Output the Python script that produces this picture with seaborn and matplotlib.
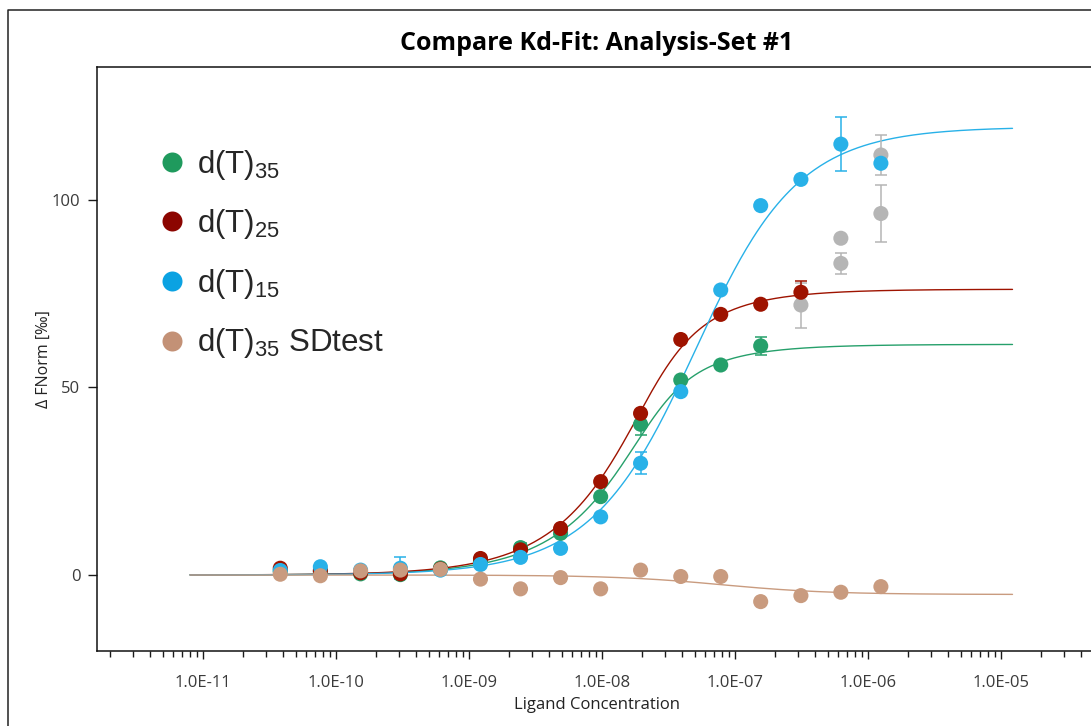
import numpy as np
import pandas as pd
import seaborn as sns
import matplotlib.pyplot as plt
from matplotlib.lines import Line2D
from matplotlib.ticker import LogLocator, FuncFormatter, NullFormatter, FixedLocator

# ligand concentrations [M], 2-fold serial dilution
conc = [3.81e-11, 7.63e-11, 1.53e-10, 3.05e-10, 6.10e-10, 1.22e-09,
        2.44e-09, 4.88e-09, 9.77e-09, 1.95e-08, 3.91e-08, 7.81e-08,
        1.56e-07, 3.13e-07, 6.25e-07, 1.25e-06]

# delta FNorm [permille] per sample (points used for the fit)
dt35 = [1.0, 0.9, 0.3, 0.1, 1.9, 3.6, 7.3, 11.1, 20.9, 40.2, 52.0, 56.0,
        61.1]
dt35_err = [0, 0, 0, 0, 0, 0, 1.3, 0, 0, 3.0, 0, 0, 2.5]
dt25 = [1.8, 1.2, 0.6, 0.3, 1.6, 4.4, 6.7, 12.4, 24.9, 43.1, 62.8, 69.5,
        72.2, 75.4]
dt25_err = [0, 0, 0, 0, 0, 0, 0, 0, 0, 0, 0, 0, 0, 2.9]
dt15 = [1.2, 2.2, 1.3, 1.8, 1.3, 2.8, 4.7, 7.1, 15.5, 29.8, 48.9, 76.0,
        98.5, 105.5, 114.9, 109.8]
dt15_err = [0, 0, 0, 2.9, 0, 0, 0, 0, 0, 3.0, 0, 0, 0, 0, 7.2, 0]
sdtest = [0.2, -0.2, 1.1, 1.3, 1.5, -1.1, -3.7, -0.7, -3.7, 1.3, -0.4,
          -0.4, -7.1, -5.5, -4.6, -3.1]
sdtest_err = [0] * 16

# points excluded from the fits (grey)
excl_idx = [13, 14, 14, 15, 15]
excl_val = [72.0, 89.8, 83.1, 112.0, 96.4]
excl_err = [6.0, 1.0, 2.9, 5.3, 7.6]

# Kd fit results: Kd [M], bound level [permille], target conc 20 nM
fit_kd = [5e-9, 6e-9, 40e-9, 70e-9]
fit_bound = [61.5, 76.2, 119.5, -5.2]
target_conc = 20e-9
fit_range = (8e-12, 1.22e-5)

x_ticks = [1e-11, 1e-10, 1e-9, 1e-8, 1e-7, 1e-6, 1e-5]

names = ["d(T)35", "d(T)25", "d(T)15", "d(T)35 SDtest"]
labels = [r"d(T)$_\mathregular{35}$", r"d(T)$_\mathregular{25}$",
          r"d(T)$_\mathregular{15}$", r"d(T)$_\mathregular{35}$ SDtest"]
colors = ["#26A06B", "#9E1300", "#28B1E8", "#C99B7F"]
legend_colors = ["#1F9A5D", "#8C0500", "#0BA2E2", "#C39176"]
grey = "#B5B5B5"


def kd_model(c, kd, bound):
    s = c + target_conc + kd
    frac = (s - np.sqrt(s * s - 4 * c * target_conc)) / (2 * target_conc)
    return bound * frac


def fmt_sci(v, pos):
    return f"{v:.1E}"


def main():
    sns.set_theme(style="white")
    plt.rcParams["font.family"] = ["Open Sans", "DejaVu Sans"]
    plt.rcParams["mathtext.fontset"] = "custom"
    plt.rcParams["mathtext.rm"] = "Liberation Sans"

    fig = plt.figure(figsize=(10.91, 7.26), dpi=100)
    lo, hi = -11.797, -4.0
    width = (hi - lo) * 133 / 1091
    ax = fig.add_axes([97 / 1091, 75 / 726, width, 584 / 726])

    # points table, grey first so coloured points sit on top
    rows = []
    for i, v in zip(excl_idx, excl_val):
        rows.append(("excluded", conc[i], v))
    for name, vals in zip(names, [dt35, dt25, dt15, sdtest]):
        for c, v in zip(conc, vals):
            rows.append((name, c, v))
    pts = pd.DataFrame(rows, columns=["series", "conc", "value"])

    cgrid = np.logspace(np.log10(fit_range[0]), np.log10(fit_range[1]), 400)
    fits = pd.concat([
        pd.DataFrame({"series": name, "conc": cgrid,
                      "value": kd_model(cgrid, kd, b)})
        for name, kd, b in zip(names, fit_kd, fit_bound)])

    palette = dict(zip(names, colors))
    palette["excluded"] = grey

    sns.lineplot(data=fits, x="conc", y="value", hue="series",
                 palette=palette, linewidth=1.0, legend=False, ax=ax,
                 zorder=2)

    # error bars
    ex = [conc[i] for i in excl_idx]
    ax.errorbar(ex, excl_val, yerr=excl_err, fmt="none", ecolor=grey,
                elinewidth=1.1, capsize=4.3, capthick=1.1, zorder=2.5)
    for vals, err, col in zip([dt35, dt25, dt15, sdtest],
                              [dt35_err, dt25_err, dt15_err, sdtest_err],
                              colors):
        sel = [k for k, e in enumerate(err) if e > 0]
        if not sel:
            continue
        ax.errorbar([conc[k] for k in sel], [vals[k] for k in sel],
                    yerr=[err[k] for k in sel], fmt="none", ecolor=col,
                    elinewidth=1.1, capsize=4.3, capthick=1.1, zorder=2.5)

    sns.scatterplot(data=pts, x="conc", y="value", hue="series",
                    palette=palette, s=118, linewidth=0, legend=False,
                    ax=ax, zorder=3)

    ax.set_xscale("log")
    ax.set_xlim(10 ** lo, 10 ** hi)
    ax.set_ylim(-20.27, 135.47)
    ax.xaxis.set_major_locator(FixedLocator(x_ticks))
    ax.xaxis.set_minor_locator(LogLocator(base=10, subs=np.arange(2, 10),
                                          numticks=20))
    ax.xaxis.set_major_formatter(FuncFormatter(fmt_sci))
    ax.xaxis.set_minor_formatter(NullFormatter())
    ax.yaxis.set_major_locator(FixedLocator([0, 50, 100]))

    ax.tick_params(axis="x", which="major", direction="out", length=5.5,
                   width=1, pad=12, labelsize=12, colors="#1a1a1a",
                   labelcolor="#3a3a3a", bottom=True)
    ax.tick_params(axis="x", which="minor", direction="out", length=4,
                   width=1, colors="#1a1a1a", bottom=True)
    ax.tick_params(axis="y", which="major", direction="out", length=6.5,
                   width=1, pad=5.5, labelsize=12, colors="#1a1a1a",
                   labelcolor="#3a3a3a", left=True)

    for side in ["left", "top", "bottom"]:
        ax.spines[side].set_color("#111111")
        ax.spines[side].set_linewidth(1.1)
    ax.spines["right"].set_visible(False)

    ax.set_xlabel("")
    ax.set_ylabel("Δ FNorm [‰]", fontsize=11.5, color="#222222")
    ax.yaxis.set_label_coords(-0.0434, 0.5)

    fig.text(597 / 1091, 1 - 705 / 726, "Ligand Concentration",
             ha="center", va="center", fontsize=12, color="#222222")
    fig.text(597 / 1091, 1 - 44 / 726, "Compare Kd-Fit: Analysis-Set #1",
             ha="center", va="center", fontsize=18, fontweight="bold",
             color="#000000")

    # outer frame (cut by the picture edge on the right/bottom)
    fig.add_artist(Line2D([8 / 1091, 8 / 1091, 1.01],
                          [-0.01, 1 - 10 / 726, 1 - 10 / 726],
                          transform=fig.transFigure, color="#222222",
                          linewidth=1.1))

    handles = [Line2D([], [], marker="o", linestyle="", markersize=14.4,
                      markerfacecolor=c, markeredgewidth=0)
               for c in legend_colors]
    ax.legend(handles, labels, loc="upper left",
              bbox_to_anchor=((160 - 97) / (width * 1091), 0.862),
              frameon=False, borderpad=0, borderaxespad=0,
              handlelength=0.75, handletextpad=0.42, labelspacing=0.82,
              prop={"family": "Liberation Sans", "size": 22.5})

    fig.savefig("out.png", dpi=100)


if __name__ == "__main__":
    main()
